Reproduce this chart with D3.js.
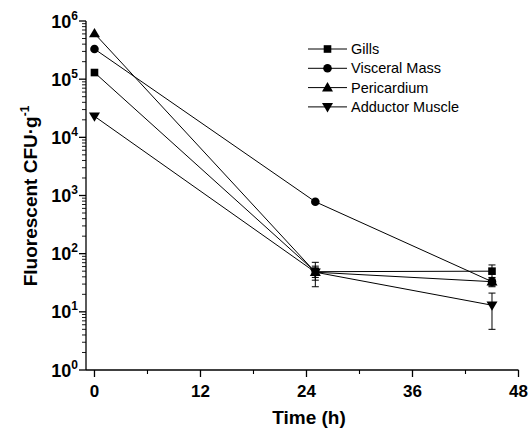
<!DOCTYPE html>
<html>
<head>
<meta charset="utf-8">
<script src="https://cdn.jsdelivr.net/npm/d3@7"></script>
<style>
  body { margin: 0; background: #fff; }
  text { font-family: "Liberation Sans", Arial, sans-serif; }
</style>
</head>
<body>
<div id="wrapper"></div>
<script>
// data
const times = [0, 25, 45]
const seriesNames = ["Gills", "Visceral Mass", "Pericardium", "Adductor Muscle"]
const seriesSymbols = ["square", "circle", "triangle", "triangleDown"]
const gills = [1.3e5, 49, 50]
const gillsErr = [0, 22, 14]
const visceral = [3.3e5, 780, 33]
const visceralErr = [0, 0, 6]
const pericardium = [6.1e5, 48, 33]
const pericardiumErr = [0, 13, 5]
const adductor = [2.3e4, 48, 13]
const adductorErr = [0, 9, 8]
const xTicks = [0, 12, 24, 36, 48]
const xMinorTicks = [6, 18, 30, 42]
const yExponents = [0, 1, 2, 3, 4, 5, 6]

const allValues = [gills, visceral, pericardium, adductor]
const allErrors = [gillsErr, visceralErr, pericardiumErr, adductorErr]

const width = 531, height = 432
const svg = d3.select("#wrapper").append("svg")
    .attr("width", width)
    .attr("height", height)

// scales
const x = d3.scaleLinear().domain([-0.96, 48]).range([86, 518.5])
const y = d3.scaleLog().domain([1, 1e6]).range([370, 21])

// axis lines
svg.append("line")
    .attr("x1", x.range()[0]).attr("x2", x.range()[1])
    .attr("y1", 370).attr("y2", 370)
    .attr("stroke", "black").attr("stroke-width", 1.3)
svg.append("line")
    .attr("x1", 86).attr("x2", 86)
    .attr("y1", 370).attr("y2", 21)
    .attr("stroke", "black").attr("stroke-width", 1.3)

// x ticks
svg.selectAll(".xmajor").data(xTicks).join("line")
    .attr("x1", d => x(d)).attr("x2", d => x(d))
    .attr("y1", 370).attr("y2", 377)
    .attr("stroke", "black").attr("stroke-width", 1.3)
svg.selectAll(".xminor").data(xMinorTicks).join("line")
    .attr("x1", d => x(d)).attr("x2", d => x(d))
    .attr("y1", 370).attr("y2", 374)
    .attr("stroke", "black").attr("stroke-width", 1.1)
svg.selectAll(".xlabel").data(xTicks).join("text")
    .attr("x", d => x(d))
    .attr("y", 397)
    .attr("text-anchor", "middle")
    .attr("font-size", 17)
    .attr("font-weight", "bold")
    .text(d => d)

// y ticks (log)
const minorY = []
yExponents.slice(0, -1).forEach(e => {
    for (let m = 2; m <= 9; m++) minorY.push(m * Math.pow(10, e))
})
svg.selectAll(".ymajor").data(yExponents).join("line")
    .attr("x1", 79).attr("x2", 86)
    .attr("y1", d => y(Math.pow(10, d))).attr("y2", d => y(Math.pow(10, d)))
    .attr("stroke", "black").attr("stroke-width", 1.3)
svg.selectAll(".yminor").data(minorY).join("line")
    .attr("x1", 82).attr("x2", 86)
    .attr("y1", d => y(d)).attr("y2", d => y(d))
    .attr("stroke", "black").attr("stroke-width", 0.9)

const yLabels = svg.selectAll(".ylabel").data(yExponents).join("text")
    .attr("x", 78)
    .attr("y", d => y(Math.pow(10, d)) + 6.5)
    .attr("text-anchor", "end")
    .attr("font-size", 18)
    .attr("font-weight", "bold")
yLabels.append("tspan").text("10")
yLabels.append("tspan")
    .attr("font-size", 12)
    .attr("dy", -8)
    .text(d => d)

// axis titles
const yTitle = svg.append("text")
    .attr("transform", "translate(36.5,196) rotate(-90)")
    .attr("text-anchor", "middle")
    .attr("font-size", 19)
    .attr("font-weight", "bold")
yTitle.append("tspan").text("Fluorescent CFU\u00b7g")
yTitle.append("tspan").attr("font-size", 12).attr("dy", -8).text("-1")

svg.append("text")
    .attr("x", 309)
    .attr("y", 424)
    .attr("text-anchor", "middle")
    .attr("font-size", 19)
    .attr("font-weight", "bold")
    .text("Time (h)")

// symbols
function drawSymbol(g, type, cx, cy) {
    if (type === "square") {
        g.append("rect").attr("x", cx - 3.8).attr("y", cy - 3.8)
            .attr("width", 7.6).attr("height", 7.6).attr("fill", "black")
    } else if (type === "circle") {
        g.append("circle").attr("cx", cx).attr("cy", cy).attr("r", 4.3).attr("fill", "black")
    } else if (type === "triangle") {
        g.append("path").attr("d", `M${cx},${cy - 5.5}L${cx + 5.5},${cy + 3.8}L${cx - 5.5},${cy + 3.8}Z`)
            .attr("fill", "black")
    } else {
        g.append("path").attr("d", `M${cx},${cy + 5.5}L${cx + 5.5},${cy - 3.8}L${cx - 5.5},${cy - 3.8}Z`)
            .attr("fill", "black")
    }
}

const line = d3.line()
    .x((d, i) => x(times[i]))
    .y(d => y(d))

const plot = svg.append("g")

allValues.forEach((vals, s) => {
    plot.append("path")
        .attr("d", line(vals))
        .attr("fill", "none")
        .attr("stroke", "black")
        .attr("stroke-width", 1)
})

// error bars
allValues.forEach((vals, s) => {
    vals.forEach((v, i) => {
        const e = allErrors[s][i]
        if (!e) return
        const cx = x(times[i])
        const top = y(v + e), bot = y(Math.max(v - e, 1))
        plot.append("line").attr("x1", cx).attr("x2", cx).attr("y1", top).attr("y2", bot)
            .attr("stroke", "black").attr("stroke-width", 1)
        ;[top, bot].forEach(yy => {
            plot.append("line").attr("x1", cx - 3.5).attr("x2", cx + 3.5)
                .attr("y1", yy).attr("y2", yy)
                .attr("stroke", "black").attr("stroke-width", 1)
        })
    })
})

allValues.forEach((vals, s) => {
    vals.forEach((v, i) => drawSymbol(plot, seriesSymbols[s], x(times[i]), y(v)))
})

// legend
const legend = svg.append("g")
seriesNames.forEach((name, i) => {
    const ly = 49 + i * 19.3
    legend.append("line").attr("x1", 308).attr("x2", 347)
        .attr("y1", ly).attr("y2", ly)
        .attr("stroke", "black").attr("stroke-width", 1)
    drawSymbol(legend, seriesSymbols[i], 327.5, ly)
    legend.append("text")
        .attr("x", 351)
        .attr("y", ly + 5)
        .attr("font-size", 14.5)
        .text(name)
})
</script>
</body>
</html>
